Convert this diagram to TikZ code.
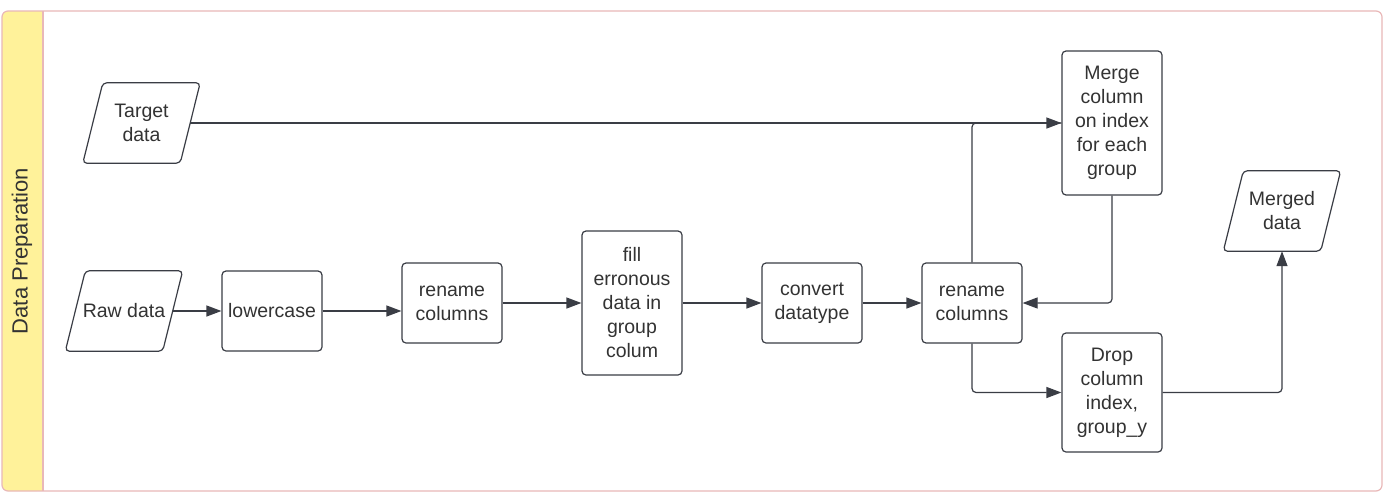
\documentclass[tikz,border=0pt]{standalone}
\usepackage{fontspec}
\setmainfont{Liberation Sans}
\usetikzlibrary{arrows.meta,calc}
\definecolor{ln}{HTML}{3A3D45}
\definecolor{txt}{HTML}{333333}
\definecolor{framec}{HTML}{E9B8B8}
\definecolor{bandc}{HTML}{FFF29A}
\tikzset{
  lbl/.style={text=txt, font=\fontsize{19.5}{24}\selectfont},
  box/.style={lbl, draw=ln, line width=1.2pt, rounded corners=4pt, minimum width=100pt, align=center, inner sep=0pt, fill=white},
  para/.style={lbl, minimum width=97pt, minimum height=80pt, align=center, inner sep=0pt},
  paraline/.style={draw=ln, line width=1.2pt, rounded corners=4pt},
  conn/.style={draw=ln, line width=1.2pt, rounded corners=4pt, -{Triangle[length=15pt,width=11pt]}},
  plainconn/.style={draw=ln, line width=1.2pt, rounded corners=4pt},
}
\newcommand\drawpara[1]{\draw[paraline] ($(#1.north west)+(10,0)$) -- ($(#1.north east)+(10,0)$) -- ($(#1.south east)+(-10,0)$) -- ($(#1.south west)+(-10,0)$) -- cycle;}
\begin{document}
\begin{tikzpicture}[x=1pt,y=-1pt]
\useasboundingbox (0,0) rectangle (1389,496);
\fill[white] (0,0) rectangle (1389,496);
% frame and band
\fill[white, rounded corners=6pt] (2,11) rectangle (1382,491);
\fill[bandc, rounded corners=6pt] (2,11) rectangle (43,491);
\fill[bandc] (30,11) rectangle (43,491);
\draw[framec, line width=1.2pt, rounded corners=6pt] (2,11) rectangle (1382,491);
\draw[framec, line width=1.2pt] (43,11) -- (43,491);
\node[lbl, font=\fontsize{22}{26}\selectfont, rotate=90] (title) at (22,251) {Data Preparation};
% nodes
\node[para] (target) at (141.5,123) {Target\\data};
\drawpara{target}
\node[para] (raw) at (124,311) {Raw data};
\drawpara{raw}
\node[para] (merged) at (1282,211) {Merged\\data};
\drawpara{merged}
\node[box, minimum height=80pt] (lower) at (272,311) {lowercase};
\node[box, minimum height=80pt] (ren1) at (452,303) {rename\\columns};
\node[box, minimum height=144pt] (fill) at (632,303) {fill\\erronous\\data in\\group\\colum};
\node[box, minimum height=80pt] (conv) at (812,303) {convert\\datatype};
\node[box, minimum height=80pt] (ren2) at (972,303) {rename\\columns};
\node[box, minimum height=144pt] (merge) at (1112,123) {Merge\\column\\on index\\for each\\group};
\node[box, minimum height=119pt] (drop) at (1112,392.5) {Drop\\column\\index,\\group\_y};
% connectors
\draw[conn] (target.east) -- (merge.west);
\draw[plainconn] (ren2.north) |- (merge.west);
\draw[conn] (raw.east) -- (lower.west);
\draw[conn] (lower.east) -- (lower.east -| ren1.west);
\draw[conn] (ren1.east) -- (fill.west);
\draw[conn] (fill.east) -- (conv.west);
\draw[conn] (conv.east) -- (ren2.west);
\draw[conn] (merge.south) |- (ren2.east);
\draw[conn] (ren2.south) |- (drop.west);
\draw[conn] (drop.east) -| (merged.south);
\end{tikzpicture}
\end{document}
